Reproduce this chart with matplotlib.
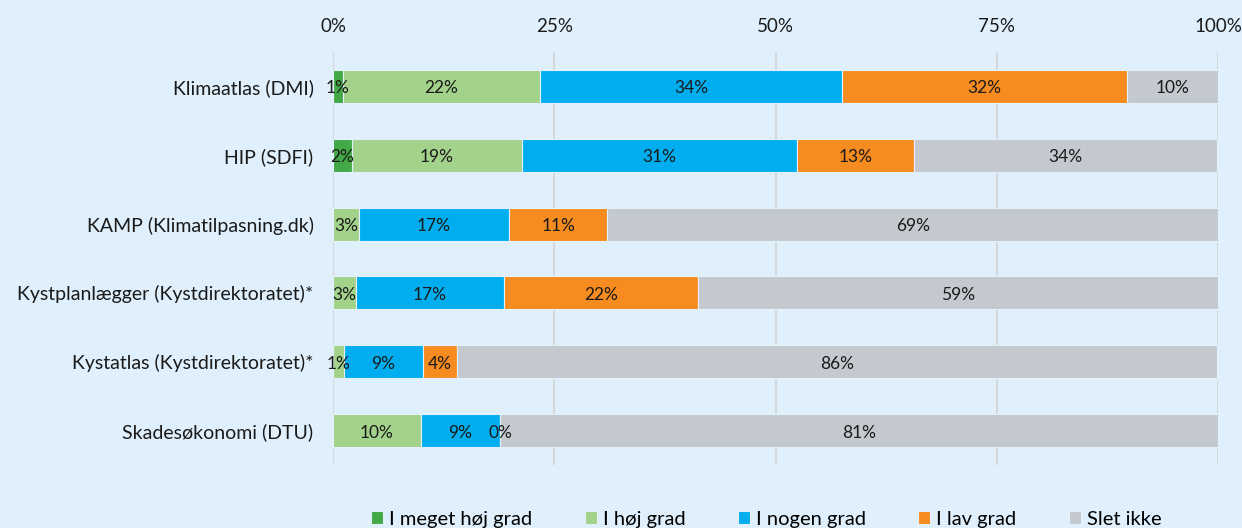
import numpy as np
import matplotlib
matplotlib.use("Agg")
import matplotlib.pyplot as plt

plt.rcParams['font.family'] = ['Lato', 'DejaVu Sans']

# data (share of respondents, %)
tools = ['Klimaatlas (DMI)', 'HIP (SDFI)', 'KAMP (Klimatilpasning.dk)',
         'Kystplanlægger (Kystdirektoratet)*', 'Kystatlas (Kystdirektoratet)*',
         'Skadesøkonomi (DTU)']
categories = ['I meget høj grad', 'I høj grad', 'I nogen grad', 'I lav grad', 'Slet ikke']
meget_hoj = [1.1, 2.1, None, None, None, None]
hoj = [22.3, 19.2, 2.9, 2.6, 1.2, 9.9]
nogen = [34.1, 31.1, 17.0, 16.7, 9.0, 9.0]
lav = [32.2, 13.3, 11.1, 21.9, 3.8, 0.0]
slet = [10.3, 34.2, 69.0, 58.8, 85.9, 81.1]
colors = ['#43a846', '#a3d28b', '#00aeef', '#f68b1f', '#c3c9ce']
bg = '#dff0fc'

series = [meget_hoj, hoj, nogen, lav, slet]

fig = plt.figure(figsize=(12.42, 5.28), dpi=100, facecolor=bg)
ax = fig.add_axes([333/1242, 1-465/528, 885/1242, 413/528])
ax.set_facecolor(bg)

y = np.arange(len(tools))
left = np.zeros(len(tools))
for vals, col, name in zip(series, colors, categories):
    w = np.array([0 if v is None else v for v in vals], dtype=float)
    ax.barh(y, w, left=left, height=0.48, color=col, edgecolor='#e4f1fa',
            linewidth=0.8, label=name, zorder=3)
    for i, v in enumerate(vals):
        if v is None:
            continue
        ax.text(left[i] + w[i]/2, y[i] + 0.03, '%d%%' % round(v), ha='center', va='center',
                fontsize=12.5, color='#1a1a1a', zorder=4)
    left += w

ax.set_xlim(0, 100)
ax.set_ylim(len(tools)-0.5, -0.5)
ax.set_yticks(y)
ax.set_yticklabels(tools, fontsize=14, color='#1a1a1a')
ax.set_xticks([0, 25, 50, 75, 100])
ax.set_xticklabels(['0%', '25%', '50%', '75%', '100%'], fontsize=13.5, color='#1a1a1a')
ax.xaxis.tick_top()
ax.tick_params(axis='x', length=0, pad=12)
ax.tick_params(axis='y', length=0, pad=14)
ax.grid(axis='x', color='#d6d9dc', linewidth=1.5, zorder=0)
for s in ax.spines.values():
    s.set_visible(False)

leg = fig.legend(loc='lower center', bbox_to_anchor=(0.617, -0.034), ncol=5, frameon=False,
                 fontsize=14.5, handlelength=0.6, handleheight=0.6, handletextpad=0.3,
                 columnspacing=2.6)

fig.savefig('out.png', dpi=100, facecolor=bg)
